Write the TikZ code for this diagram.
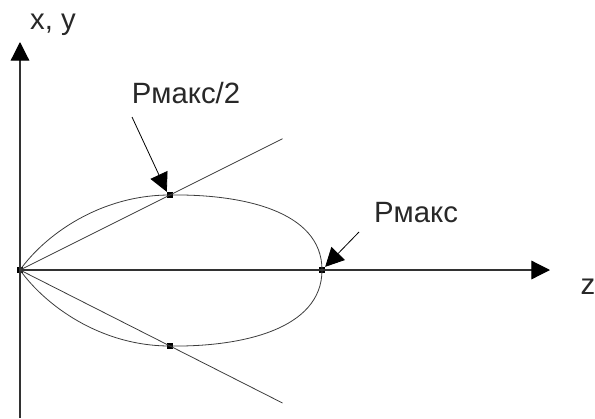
\documentclass[tikz,border=0pt]{standalone}
\usepackage{fontspec}
\setmainfont{Liberation Sans}
\usetikzlibrary{arrows.meta,calc}

\tikzset{every picture/.style={line width=0.75pt}}
\tikzset{
axis line/.style={draw={rgb, 255:red, 50; green, 50; blue, 50 }, line width=0.9pt, -{Triangle[length=14pt,width=14pt,color=black]}},
lobe line/.style={draw={rgb, 255:red, 60; green, 60; blue, 60 }, line width=0.6pt},
pointer/.style={line width=0.6pt, -{Triangle[length=14pt,width=14pt]}},
dot/.style={rectangle, fill=black, inner sep=0pt, minimum size=4pt},
label text/.style={inner sep=0.75pt, text={rgb, 255:red, 40; green, 40; blue, 40 }, font=\fontsize{22}{26}\selectfont}
}

\begin{document}
\begin{tikzpicture}[x=0.75pt,y=0.75pt,yscale=-1,xscale=1]
\useasboundingbox (0,0) rectangle (595,418);

%Points
\coordinate (O) at (20,270);
\coordinate (ytop) at (20,42);
\coordinate (ybot) at (20,418);
\coordinate (zend) at (550,270);
\node [dot] (Pup) at (170,195) {};
\node [dot] (Pdown) at (170,346) {};
\node [dot] (Pmax) at (322,270) {};
\node [dot, minimum size=5pt] (Porig) at (O) {};

%Axes
\draw [axis line] (ybot) -- (ytop) ;
\draw [axis line] (Porig.center) -- (zend) ;

%Lobe
\draw [lobe line] (O) .. controls (45,235) and (100,195) .. (Pup.center) .. controls (240,194) and (322,210) .. (Pmax.center) ;
\draw [lobe line] (O) .. controls (45,305) and (100,346) .. (Pdown.center) .. controls (240,347) and (322,330) .. (Pmax.center) ;

%Straight Lines
\draw [lobe line] (O) -- ($(O)!1.75!(Pup.center)$) ;
\draw [lobe line] (O) -- ($(O)!1.75!(Pdown.center)$) ;

% Text Node
\node [label text] (xy) at (53,25) {x, y};
% Text Node
\node [label text] (z) at (588,287) {z};
% Text Node
\node [label text] (halfmax) at (186,93) {Рмакс/2};
% Text Node
\node [label text] (max) at (416,213) {Рмакс};

%Pointers
\coordinate (halfstart) at (132,117);
\coordinate (maxstart) at (359,232);
\draw [pointer] (halfstart) -- (Pup.north west) ;
\draw [pointer] (maxstart) -- (Pmax.north east) ;

\end{tikzpicture}
\end{document}
